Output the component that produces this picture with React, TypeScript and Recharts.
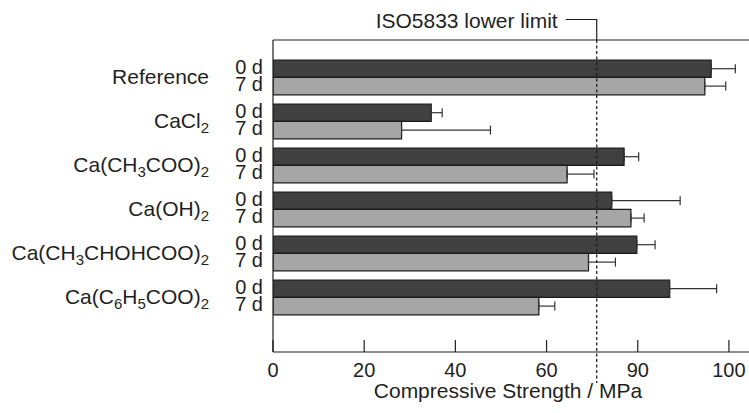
import React from 'react';
import {
	BarChart,
	Bar,
	XAxis,
	YAxis,
	ErrorBar,
	ReferenceLine,
	CartesianGrid,
} from 'recharts';

const categories = [
	'Reference',
	'CaCl2',
	'Ca(CH3COO)2',
	'Ca(OH)2',
	'Ca(CH3CHOHCOO)2',
	'Ca(C6H5COO)2',
];
const day0 = [96.1, 34.7, 77.0, 74.3, 79.8, 87.0];
const day0Err = [5.3, 2.4, 3.2, 15.0, 4.0, 10.3];
const day7 = [94.7, 28.2, 64.5, 78.5, 69.2, 58.3];
const day7Err = [4.6, 19.5, 5.9, 2.9, 5.9, 3.5];
const tickValues = [0, 20, 40, 60, 80, 100];
const tickLabels = ['0', '20', '40', '60', '90', '100'];
const isoLimit = 71;

const data = categories.map((name, i) => ({
	name,
	d0: day0[i],
	d7: day7[i],
	e0: [0, day0Err[i]],
	e7: [0, day7Err[i]],
}));

const FONT = '"Liberation Sans", Arial, Helvetica, sans-serif';
const INK = '#1f1f1f';

const Formula = ({ text, x, y }: { text: string; x: number; y: number }) => {
	const parts = text.match(/\d+|\D+/g) || [];
	let sub = false;
	return (
		<text x={x} y={y} textAnchor='end' fontSize={21} fill={INK} fontFamily={FONT}>
			{parts.map((p, i) => {
				const isDigit = /^\d+$/.test(p);
				const dy = isDigit && !sub ? 5 : !isDigit && sub ? -5 : 0;
				sub = isDigit;
				return (
					<tspan key={i} dy={dy} fontSize={isDigit ? 15 : 21}>
						{p}
					</tspan>
				);
			})}
		</text>
	);
};

const CategoryTick = (props: any) => {
	const { x, y, payload } = props;
	return (
		<g>
			<Formula text={payload.value} x={x - 64} y={y + 6.5} />
			<text x={x - 10} y={y - 3.5} textAnchor='end' fontSize={20} fill={INK} fontFamily={FONT}>
				0 d
			</text>
			<text x={x - 10} y={y + 14} textAnchor='end' fontSize={20} fill={INK} fontFamily={FONT}>
				7 d
			</text>
		</g>
	);
};

const StrengthTick = (props: any) => {
	const { x, y, payload, index } = props;
	return (
		<g>
			<line x1={x} y1={y} x2={x} y2={y - 12} stroke={INK} strokeWidth={1.2} />
			<text x={x} y={y + 25} textAnchor='middle' fontSize={20} fill={INK} fontFamily={FONT}>
				{tickLabels[index] ?? payload.value}
			</text>
		</g>
	);
};

const LimitLine = (props: any) => {
	const { x1, y1, y2 } = props;
	const top = Math.min(y1, y2);
	const bottom = Math.max(y1, y2);
	return (
		<g>
			<line
				x1={x1}
				y1={top}
				x2={x1}
				y2={bottom + 31}
				stroke={INK}
				strokeWidth={1.3}
				strokeDasharray='3 2.5'
			/>
			<path
				d={`M${x1 - 31},19.5 H${x1} V${top}`}
				fill='none'
				stroke={INK}
				strokeWidth={1.2}
			/>
			<text x={x1 - 39} y={28} textAnchor='end' fontSize={21} fill={INK} fontFamily={FONT}>
				ISO5833 lower limit
			</text>
		</g>
	);
};

export default function App() {
	return (
		<div style={{ position: 'absolute', left: 0, top: 0, background: '#fff' }}>
			<BarChart
				width={749}
				height={413}
				data={data}
				layout='vertical'
				margin={{ top: 40, right: 0, left: 0, bottom: 0 }}
				barGap={0}
			>
				<CartesianGrid vertical={false} horizontalPoints={[40]} stroke={INK} strokeWidth={1.2} />
				<XAxis
					type='number'
					domain={[0, 104.4]}
					allowDataOverflow
					ticks={tickValues}
					tick={<StrengthTick />}
					tickLine={false}
					tickSize={0}
					tickMargin={0}
					height={61}
					axisLine={{ stroke: INK, strokeWidth: 1.2 }}
					interval={0}
				/>
				<YAxis
					type='category'
					dataKey='name'
					width={273}
					padding={{ top: 15, bottom: 33 }}
					tick={<CategoryTick />}
					tickLine={false}
					tickSize={0}
					tickMargin={0}
					axisLine={{ stroke: INK, strokeWidth: 1.2 }}
					interval={0}
				/>
				<Bar dataKey='d0' barSize={17.4} fill='#404040' stroke='#1a1a1a' strokeWidth={1.2} isAnimationActive={false}>
					<ErrorBar dataKey='e0' direction='x' width={4.5} stroke='#333' strokeWidth={1.2} isAnimationActive={false} />
				</Bar>
				<Bar dataKey='d7' barSize={17.4} fill='#a6a6a6' stroke='#1a1a1a' strokeWidth={1.2} isAnimationActive={false}>
					<ErrorBar dataKey='e7' direction='x' width={4.5} stroke='#333' strokeWidth={1.2} isAnimationActive={false} />
				</Bar>
				<ReferenceLine x={isoLimit} shape={<LimitLine />} />
			</BarChart>
			<div
				style={{
					position: 'absolute',
					left: 273,
					width: 470,
					top: 380,
					textAlign: 'center',
					fontFamily: FONT,
					fontSize: 21,
					color: INK,
					lineHeight: '22px',
				}}
			>
				Compressive Strength / MPa
			</div>
		</div>
	);
}
